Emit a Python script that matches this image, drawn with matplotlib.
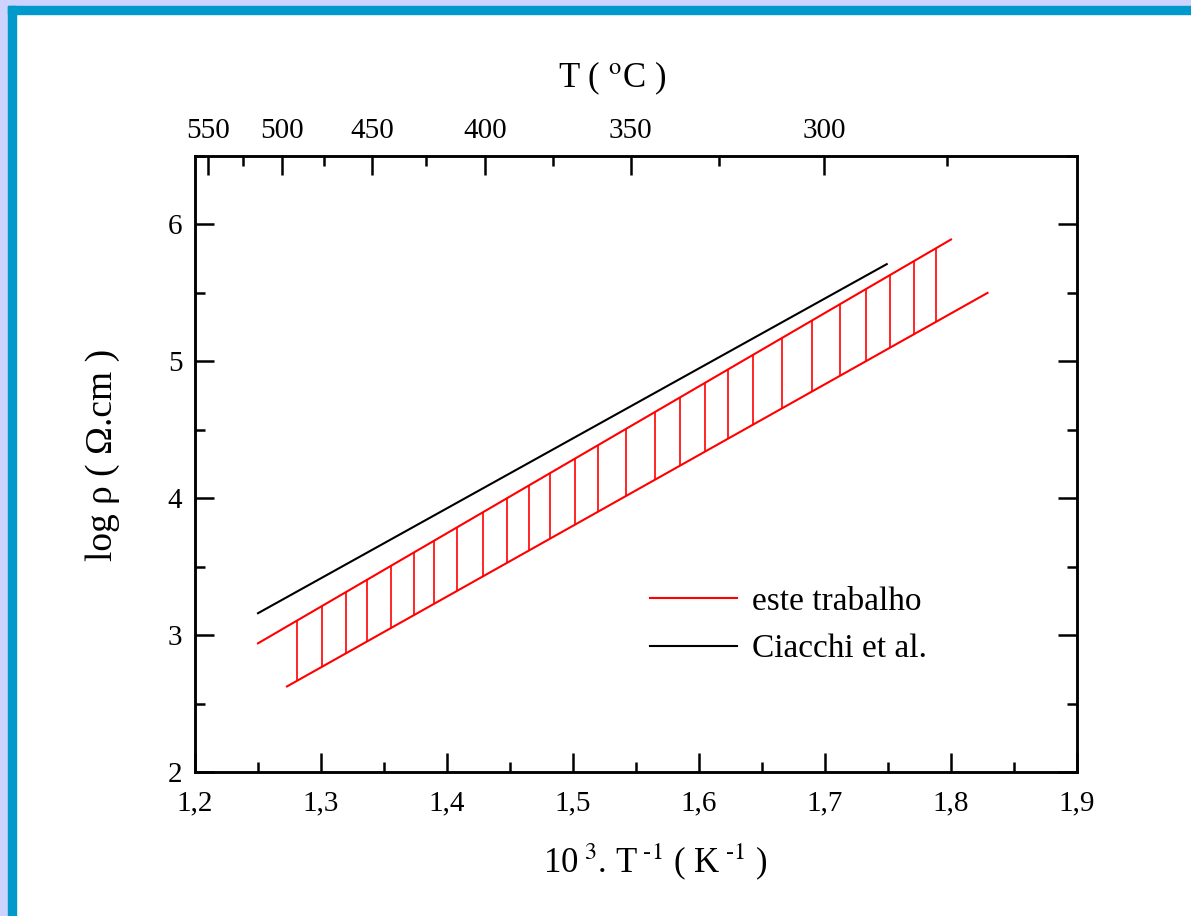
import numpy as np
import matplotlib
matplotlib.use("Agg")
import matplotlib.pyplot as plt
from matplotlib.patches import Rectangle
from matplotlib.ticker import MultipleLocator, FuncFormatter

# ---- data ----
ciacchi_x = [1.25, 1.749]
ciacchi_y = [3.16, 5.71]

upper_x = [1.25, 1.80]
upper_y = [2.94, 5.89]
lower_x = [1.273, 1.829]
lower_y = [2.625, 5.50]

# vertical hatch lines between the two red bounds
hatch_x = [1.281, 1.3006, 1.3198, 1.3365, 1.3553, 1.3738, 1.3897, 1.408,
           1.4286, 1.4476, 1.4651, 1.4817, 1.5016, 1.5198, 1.5421, 1.5651,
           1.5849, 1.6048, 1.623, 1.6429, 1.6659, 1.6897, 1.7119, 1.7325,
           1.7516, 1.7705, 1.7878]

# top axis (temperature in C), positions as drawn on the original
top_labels = ["550", "500", "450", "400", "350", "300"]
top_major_pos = [1.2101, 1.2693, 1.3405, 1.4302, 1.5458, 1.6992]
top_minor_pos = [1.2383, 1.3027, 1.3832, 1.4839, 1.6162, 1.7971]

plt.rcParams["font.family"] = ["Liberation Serif", "DejaVu Serif"]
plt.rcParams["mathtext.fontset"] = "stix"

fig = plt.figure(figsize=(11.91, 9.16), dpi=100)

# page frame
W, H = 1191, 916
lav = "#ccd3fd"
blue = "#0099cc"
fig.patches.append(Rectangle((0, 0), 8 / W, 1, transform=fig.transFigure, color=lav, zorder=0))
fig.patches.append(Rectangle((0, 1 - 6 / H), 1, 6 / H, transform=fig.transFigure, color=lav, zorder=0))
fig.patches.append(Rectangle((8 / W, 0), 8 / W, 1 - 6 / H, transform=fig.transFigure, color=blue, zorder=0))
fig.patches.append(Rectangle((8 / W, 1 - 14 / H), 1, 8 / H, transform=fig.transFigure, color=blue, zorder=0))

ax = fig.add_axes([195 / W, 1 - 772 / H, (1077 - 195) / W, (772 - 156) / H])

ax.plot(upper_x, upper_y, color="red", lw=1.5, label="este trabalho")
ax.plot(lower_x, lower_y, color="red", lw=1.5)
h_top = np.interp(hatch_x, upper_x, upper_y)
h_bot = np.interp(hatch_x, lower_x, lower_y)
ax.vlines(hatch_x, h_bot, h_top, color="red", lw=1.2)
ax.plot(ciacchi_x, ciacchi_y, color="black", lw=1.5, label="Ciacchi et al.")

ax.set_xlim(1.2, 1.9)
ax.set_ylim(2, 6.5)
ax.xaxis.set_major_locator(MultipleLocator(0.1))
ax.xaxis.set_minor_locator(MultipleLocator(0.05))
ax.yaxis.set_major_locator(MultipleLocator(1))
ax.yaxis.set_minor_locator(MultipleLocator(0.5))
ax.xaxis.set_major_formatter(FuncFormatter(lambda v, p: f"{v:.1f}".replace(".", ",")))
ax.yaxis.set_major_formatter(FuncFormatter(lambda v, p: f"{v:.0f}"))

ax.tick_params(which="both", direction="in", top=False, right=True, width=1.8, labelsize=21)
ax.tick_params(which="major", length=14)
ax.tick_params(which="minor", length=7)
ax.tick_params(axis="x", pad=13)
ax.tick_params(axis="y", pad=9)
for s in ax.spines.values():
    s.set_linewidth(1.8)

ax2 = ax.twiny()
ax2.set_xlim(ax.get_xlim())
ax2.set_xticks(top_major_pos)
ax2.set_xticklabels(top_labels)
ax2.set_xticks(top_minor_pos, minor=True)
ax2.tick_params(which="both", direction="in", width=1.8, labelsize=21, pad=9)
ax2.tick_params(which="major", length=14)
ax2.tick_params(which="minor", length=7)
for s in ax2.spines.values():
    s.set_linewidth(1.8)

ax.legend(loc="upper left", bbox_to_anchor=(0.516, 0.301), frameon=False,
          fontsize=24, handlelength=2.6, handletextpad=0.45, labelspacing=0.5,
          borderpad=0, borderaxespad=0)

fig.text(612 / W, 1 - 78 / H, r"T ( $^{\rm o}$C )", fontsize=25, ha="center", va="center")
fig.text(655 / W, 1 - 862 / H, r"10$^{\ 3}$. T$^{\ \text{-}1}$ ( K$^{\ \text{-}1}$ )",
         fontsize=25, ha="center", va="center")
fig.text(103 / W, 1 - 455 / H, "log ρ ( Ω.cm )", fontsize=27, ha="center", va="center", rotation=90)

fig.savefig("out.png", dpi=100)
